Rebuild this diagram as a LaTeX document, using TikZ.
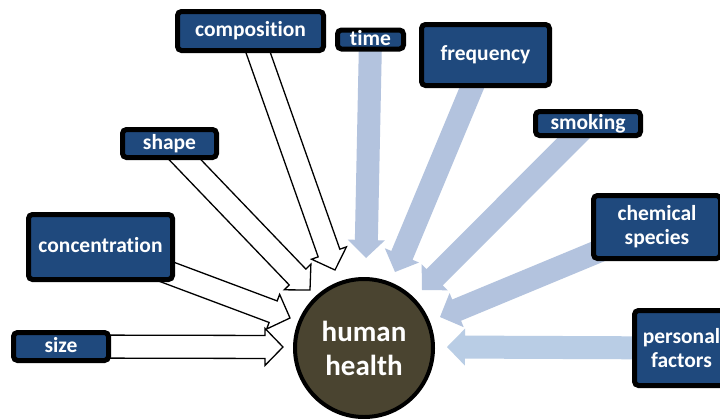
\documentclass[tikz,border=0pt]{standalone}
\usepackage{fontspec}
\setmainfont{Carlito}[RawFeature=-liga]
\usetikzlibrary{calc}
\definecolor{boxblue}{HTML}{1F497D}
\definecolor{hhfill}{HTML}{4A4430}
\definecolor{arrblue}{HTML}{B3C3DE}
\definecolor{arrbluelight}{HTML}{B9CDE5}
\pgfdeclarelayer{bg}
\pgfsetlayers{bg,main}
% #1 style, #2 start node, #3 tip coordinate
\newcommand\blockarr[3]{%
  \coordinate (ba-B) at ($(#3)!18pt!(#2.center)$);
  \path[#1] ($(#2.center)!11.5pt!90:(#3)$) -- ($(ba-B)!11.5pt!-90:(#2.center)$)
    -- ($(ba-B)!18.5pt!-90:(#2.center)$) -- (#3)
    -- ($(ba-B)!18.5pt!90:(#2.center)$) -- ($(ba-B)!11.5pt!90:(#2.center)$)
    -- ($(#2.center)!11.5pt!-90:(#3)$) -- cycle;
}
\tikzset{
  box/.style={draw=black, line width=5pt, fill=boxblue, rounded corners=4pt,
    text=white, font=\fontsize{21.5}{24}\selectfont\bfseries, inner sep=0pt},
  onel/.style={text height=15pt, text depth=4pt},
  twol/.style={align=center},
  whitearr/.style={fill=white, draw=black, line width=1.3pt, line join=miter},
  bluearr/.style={fill=arrblue},
  bluearrlight/.style={fill=arrbluelight},
  hh/.style={circle, draw=black, line width=4pt, fill=hhfill, text=white,
    align=center, font=\fontsize{29}{34}\selectfont\bfseries,
    minimum size=138pt, inner sep=0pt}
}
\begin{document}
\begin{tikzpicture}[x=1pt,y=-1pt]
\useasboundingbox (0,0) rectangle (720,418);
\clip (0,0) rectangle (720,418);
% boxes
\node[box,onel,minimum width=95pt,minimum height=28pt] (size) at (61,346.5) {size};
\node[box,onel,minimum width=144pt,minimum height=65pt] (conc) at (100.5,247) {concentration};
\node[box,onel,minimum width=94pt,minimum height=28pt] (shape) at (169.5,143.5) {shape};
\node[box,onel,minimum width=146pt,minimum height=39pt] (comp) at (250.5,31) {composition};
\node[box,onel,minimum width=66pt,minimum height=18pt] (time) at (370.5,39.5) {time};
\node[box,onel,minimum width=128pt,minimum height=61pt] (freq) at (485.5,55) {frequency};
\node[box,onel,minimum width=105pt,minimum height=24pt] (smok) at (588,123.5) {smoking};
\node[box,twol,minimum width=127pt,minimum height=63pt] (chem) at (657,227) {chemical\\species};
\node[box,twol,minimum width=94pt,minimum height=75pt] (pers) at (681.5,348) {personal\\factors};
\node[hh] (hh) at (364,348) {human\\health};
% arrow tips
\coordinate (tsize) at (283,347);
\coordinate (tconc) at (290,318);
\coordinate (tshape) at (310,290);
\coordinate (tcomp) at (335,270);
\coordinate (ttime) at (366,258);
\coordinate (tfreq) at (395,272);
\coordinate (tsmok) at (422,290);
\coordinate (tchem) at (440,317);
\coordinate (tpers) at (447,347);
\begin{pgfonlayer}{bg}
\fill[white] (0,0) rectangle (720,418);
\blockarr{whitearr}{size}{tsize}
\blockarr{whitearr}{conc}{tconc}
\blockarr{whitearr}{shape}{tshape}
\blockarr{whitearr}{comp}{tcomp}
\blockarr{bluearr}{time}{ttime}
\blockarr{bluearr}{freq}{tfreq}
\blockarr{bluearr}{smok}{tsmok}
\blockarr{bluearr}{chem}{tchem}
\blockarr{bluearrlight}{pers}{tpers}
\end{pgfonlayer}
\end{tikzpicture}
\end{document}
